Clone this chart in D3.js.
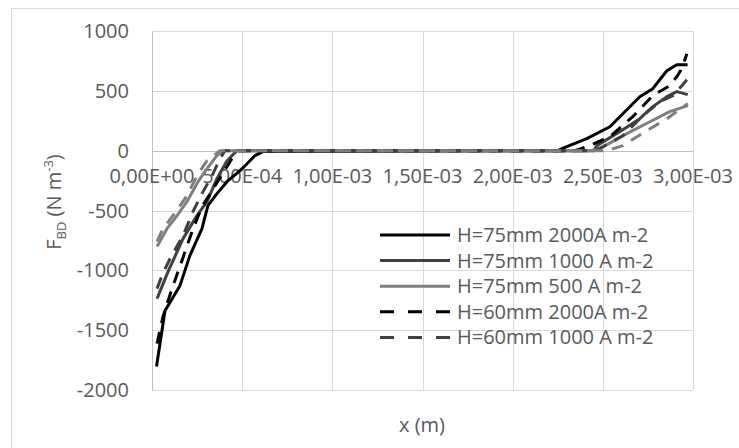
<!DOCTYPE html>
<html><head><meta charset="utf-8">
<script src="https://cdn.jsdelivr.net/npm/d3@7/dist/d3.min.js"></script>
<style>
html,body{margin:0;padding:0;background:#fff;}
svg text{font-family:"Open Sans",sans-serif;fill:#595959;}
</style></head>
<body><svg id="c" width="739" height="448"></svg>
<script>
// ---- data (x in metres, F_BD in N m^-3) ----
const seriesNames = ["H=75mm 2000A m-2","H=75mm 1000 A m-2","H=75mm 500 A m-2","H=60mm 2000A m-2","H=60mm 1000 A m-2","H=60mm 500 A m-2"];
const s1x = [2.5e-5,7.2e-5,1.55e-4,2.1e-4,2.77e-4,3.1e-4,3.6e-4,4.16e-4,4.88e-4,5.27e-4,5.7e-4,6.15e-4,2.25e-3,2.30e-3,2.411e-3,2.539e-3,2.611e-3,2.705e-3,2.777e-3,2.855e-3,2.91e-3,2.97e-3];
const s1y = [-1804,-1337,-1128,-877,-652,-459,-359,-259,-167,-109,-42,-8,0,33,100,200,309,451,518,668,718,718];
const s2x = [2.8e-5,8.9e-5,1.72e-4,2.49e-4,3.05e-4,3.6e-4,4.16e-4,4.71e-4,2.45e-3,2.467e-3,2.594e-3,2.705e-3,2.777e-3,2.855e-3,2.91e-3,2.971e-3];
const s2y = [-1236,-1011,-735,-543,-426,-234,-84,0,0,42,159,267,368,451,493,468];
const s3x = [2.8e-5,8.3e-5,1.39e-4,1.94e-4,2.55e-4,3.05e-4,3.6e-4,3.94e-4,2.428e-3,2.483e-3,2.633e-3,2.761e-3,2.871e-3,2.971e-3];
const s3y = [-802,-652,-543,-426,-259,-150,-42,0,0,17,142,242,326,376];
const s4x = [2.8e-5,6.1e-5,1.11e-4,1.66e-4,2.22e-4,2.77e-4,3.33e-4,3.88e-4,4.43e-4,4.77e-4,2.345e-3,2.428e-3,2.539e-3,2.666e-3,2.777e-3,2.871e-3,2.91e-3,2.938e-3,2.966e-3];
const s4y = [-1612,-1387,-1153,-919,-677,-468,-334,-200,-67,0,0,42,117,284,460,543,618,685,810];
const s5x = [2.8e-5,5.5e-5,1.0e-4,1.72e-4,2.27e-4,2.77e-4,3.33e-4,3.77e-4,4.05e-4,2.456e-3,2.5e-3,2.611e-3,2.722e-3,2.816e-3,2.888e-3,2.938e-3,2.966e-3];
const s5y = [-1153,-1044,-902,-710,-510,-359,-209,-67,0,0,33,125,292,409,460,543,593];
const s6x = [2.8e-5,6.1e-5,1.16e-4,1.94e-4,2.49e-4,3.05e-4,3.77e-4,2.522e-3,2.611e-3,2.744e-3,2.855e-3,2.971e-3];
const s6y = [-760,-652,-543,-376,-209,-84,0,0,42,167,267,393];
const xTicks = [0,5e-4,1e-3,1.5e-3,2e-3,2.5e-3,3e-3];
const xTickLabels = ["0,00E+00","5,00E-04","1,00E-03","1,50E-03","2,00E-03","2,50E-03","3,00E-03"];
const yTicks = [-2000,-1500,-1000,-500,0,500,1000];
const legendCount = 5;

// ---- styles ----
const colors = ["#000000","#404040","#7f7f7f","#000000","#404040","#7f7f7f"];
const dashed = [false,false,false,true,true,true];
const xs = [s1x,s2x,s3x,s4x,s5x,s6x], ys = [s1y,s2y,s3y,s4y,s5y,s6y];

const svg = d3.select("#c");
const L=152,R=693,T=31,B=390;
const x = d3.scaleLinear().domain([0,3e-3]).range([L,R]);
const y = d3.scaleLinear().domain([-2000,1000]).range([B,T]);

// chart border (right/bottom edges lie outside the picture)
svg.append("rect").attr("x",11.5).attr("y",8.5).attr("width",760).attr("height",460)
  .attr("fill","#fff").attr("stroke","#d9d9d9");

// gridlines
const g = svg.append("g");
g.selectAll(".hy").data(yTicks).join("line")
  .attr("x1",L).attr("x2",R).attr("y1",d=>Math.round(y(d))+0.5).attr("y2",d=>Math.round(y(d))+0.5)
  .attr("stroke",d=>d===0?"#bfbfbf":"#d9d9d9").attr("stroke-width",1);
g.selectAll(".vx").data(xTicks).join("line")
  .attr("y1",T).attr("y2",B).attr("x1",d=>Math.round(x(d))+0.5).attr("x2",d=>Math.round(x(d))+0.5)
  .attr("stroke",d=>d===0?"#bfbfbf":"#d9d9d9").attr("stroke-width",1);

// y tick labels
svg.selectAll(".yl").data(yTicks).join("text")
  .attr("x",129).attr("y",d=>y(d)+7).attr("text-anchor","end")
  .style("font-size","20px").text(d=>d);
// x tick labels (below zero line)
svg.selectAll(".xl").data(xTicks).join("text")
  .attr("x",d=>x(d)).attr("y",y(0)+32).attr("text-anchor","middle")
  .style("font-size","20px").text((d,i)=>xTickLabels[i]);

// series
const line = d3.line().x(d=>x(d[0])).y(d=>y(d[1]));
for(let i=0;i<6;i++){
  const pts = xs[i].map((v,j)=>[v,ys[i][j]]);
  svg.append("path").attr("d",line(pts)).attr("fill","none")
    .attr("stroke",colors[i]).attr("stroke-width",3)
    .attr("stroke-linejoin","round")
    .attr("stroke-dasharray",dashed[i]?"12,9":null);
}

// legend
const lg = svg.append("g");
for(let i=0;i<legendCount;i++){
  const yy = 235 + i*25.6;
  lg.append("line").attr("x1",380).attr("x2",450).attr("y1",yy).attr("y2",yy)
    .attr("stroke",colors[i]).attr("stroke-width",3)
    .attr("stroke-dasharray",dashed[i]?"14,14":null);
  lg.append("text").attr("x",457).attr("y",yy+7).style("font-size","20px").text(seriesNames[i]);
}

// axis titles
svg.append("text").attr("x",422).attr("y",432).attr("text-anchor","middle").style("font-size","20px").text("x (m)");
const yt = svg.append("text").attr("transform","translate(61,202) rotate(-90)").attr("text-anchor","middle").style("font-size","20px");
yt.append("tspan").text("F");
yt.append("tspan").attr("dy",5).style("font-size","13px").text("BD");
yt.append("tspan").attr("dy",-5).text(" (N m");
yt.append("tspan").attr("dy",-8).style("font-size","13px").text("-3");
yt.append("tspan").attr("dy",8).text(")");
</script></body></html>
